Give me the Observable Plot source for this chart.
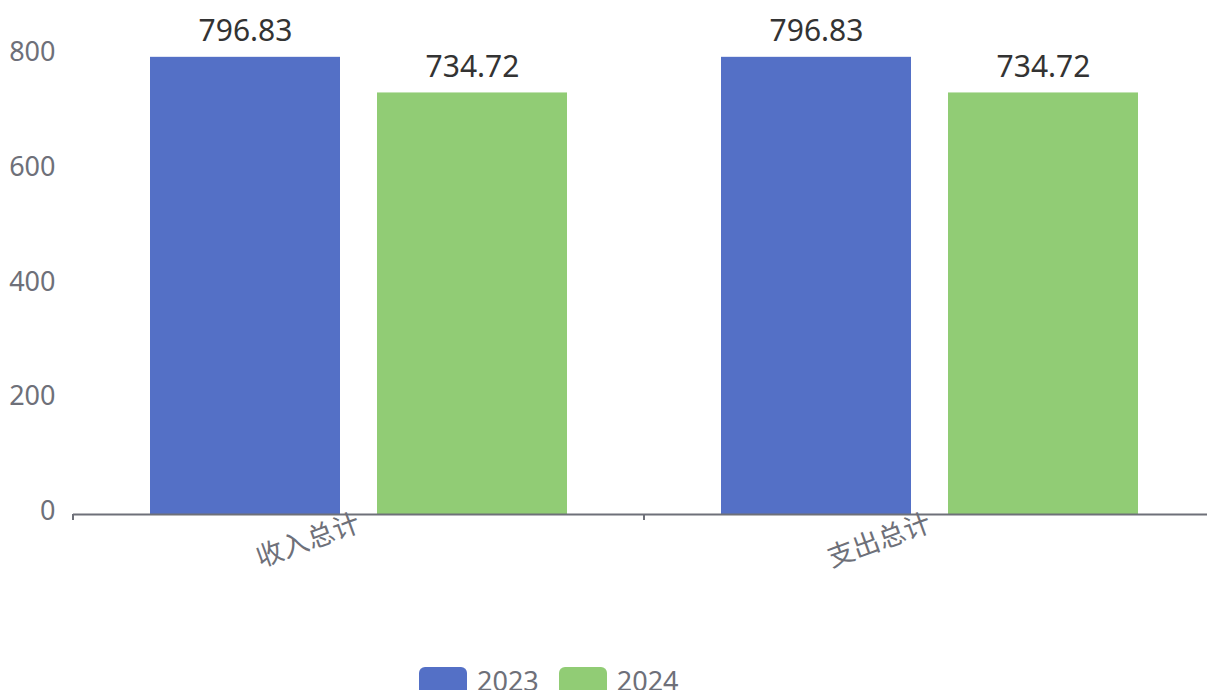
<!DOCTYPE html>
<html>
<head>
<meta charset="utf-8">
<script src="https://cdn.jsdelivr.net/npm/d3@7"></script>
<script src="https://cdn.jsdelivr.net/npm/@observablehq/plot@0.6"></script>
<style>
  html, body { margin: 0; padding: 0; background: #fff; overflow: hidden; }
  #wrap { position: relative; width: 1207px; height: 690px; overflow: hidden; font-family: "Noto Sans", "Noto Sans CJK SC", sans-serif; }
  #wrap svg { max-width: none !important; }
  #legend { position: absolute; left: 0; top: 667px; width: 1207px; display: flex; justify-content: flex-start; }
  .item { display: flex; align-items: flex-start; margin-right: 20px; }
  .sw { width: 48px; height: 28px; border-radius: 6px; margin-right: 10px; }
  .lab { font-size: 27px; color: #6E7079; line-height: 24px; }
</style>
</head>
<body>
<div id="wrap"></div>
<script>
const categories = ["收入总计", "支出总计"];
const years = ["2023", "2024"];
const values2023 = [796.83, 796.83];
const values2024 = [734.72, 734.72];
const yTicks = [0, 200, 400, 600, 800];
const colors = ["#5470C6", "#91CC75"];

const seriesValues = [values2023, values2024];
const table = [];
categories.forEach((c, i) => {
  years.forEach((y, j) => table.push({category: c, year: y, value: seriesValues[j][i]}));
});

const axisColor = "#6E7079";
const font = "'Noto Sans', 'Noto Sans CJK SC', sans-serif";

function boundaryTicks(index, scales, values, dimensions) {
  const y0 = scales.y(0);
  const x = dimensions.marginLeft;
  return d3.create("svg:line")
    .attr("x1", x).attr("x2", x)
    .attr("y1", y0).attr("y2", y0 + 6)
    .attr("stroke", axisColor).attr("stroke-width", 2)
    .node();
}

const chart = Plot.plot({
  width: 1215,
  height: 650,
  marginLeft: 73,
  marginRight: 0,
  marginTop: 55,
  marginBottom: 136,
  style: {fontFamily: font, background: "#fff", overflow: "visible", maxWidth: "none"},
  fx: {domain: categories, padding: 0, axis: null, label: null},
  x: {domain: years, paddingInner: 0.1626, paddingOuter: 0.334, axis: null, label: null},
  y: {domain: [0, 800], axis: null, label: null},
  color: {domain: years, range: colors},
  marks: [
    Plot.barY(table, {fx: "category", x: "year", y: "value", fill: "year"}),
    Plot.text(table, {
      fx: "category", x: "year", y: "value",
      text: d => d.value.toFixed(2),
      lineAnchor: "bottom", dy: -16,
      fontSize: 30, fill: "#333", stroke: "white", strokeWidth: 3
    }),
    Plot.ruleY([0], {stroke: axisColor, strokeWidth: 2}),
    boundaryTicks,
    Plot.axisY({
      ticks: yTicks, tickSize: 0, tickPadding: 18, fontSize: 27,
      fill: axisColor, dy: -3, tickFormat: d => String(d), label: null
    }),
    Plot.axisFx({
      anchor: "bottom", tickSize: 0, tickPadding: 8, tickRotate: -20,
      fontSize: 27, fill: axisColor, label: null
    })
  ]
});

const wrap = document.getElementById("wrap");
wrap.appendChild(chart);

const legend = document.createElement("div");
legend.id = "legend";
legend.style.paddingLeft = "419px";
years.forEach((y, i) => {
  const item = document.createElement("div");
  item.className = "item";
  const sw = document.createElement("div");
  sw.className = "sw";
  sw.style.background = colors[i];
  const lab = document.createElement("div");
  lab.className = "lab";
  lab.style.marginTop = "2px";
  lab.textContent = y;
  item.appendChild(sw);
  item.appendChild(lab);
  legend.appendChild(item);
});
wrap.appendChild(legend);
</script>
</body>
</html>
